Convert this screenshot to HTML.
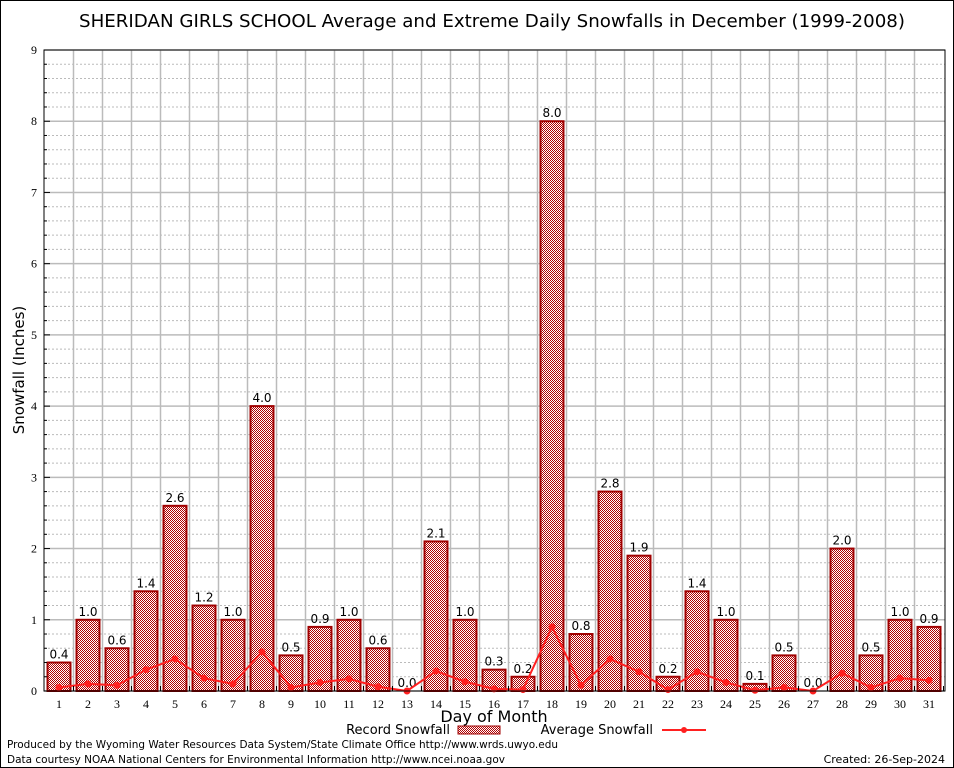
<!DOCTYPE html>
<html><head><meta charset="utf-8"><style>
body{margin:0;background:#fff;}
svg{display:block;font-family:"DejaVu Sans","Liberation Sans",sans-serif;}
</style></head><body>
<svg id="chart" width="954" height="768" viewBox="0 0 954 768">
<defs>
<pattern id="chk" width="2" height="2" patternUnits="userSpaceOnUse">
<rect width="2" height="2" fill="#fff"/><rect width="1" height="1" fill="#b00000"/><rect x="1" y="1" width="1" height="1" fill="#b00000"/>
</pattern>
</defs>
<rect x="0.5" y="0.5" width="953" height="767" fill="#fff" stroke="#000"/>
<text x="492" y="27" text-anchor="middle" font-size="18" fill="#000" textLength="826" lengthAdjust="spacingAndGlyphs">SHERIDAN GIRLS SCHOOL Average and Extreme Daily Snowfalls in December (1999-2008)</text>
<g id="grid"></g>
<g id="bars"></g>
<g id="line"></g>
<rect x="44" y="50" width="901" height="641" fill="none" stroke="#000"/>
<g id="axes" font-family="Liberation Serif, serif" font-size="12"></g>
<text x="24" y="370" text-anchor="middle" font-size="15" transform="rotate(-90 24 370)">Snowfall (Inches)</text>
<text x="494" y="722" text-anchor="middle" font-size="16">Day of Month</text>
<g font-size="13">
<text x="450" y="734" text-anchor="end">Record Snowfall</text>
<rect x="458" y="726" width="42" height="8" fill="url(#chk)" stroke="#a00000"/>
<text x="653" y="734" text-anchor="end">Average Snowfall</text>
<line x1="662" y1="730" x2="706" y2="730" stroke="#ff2020" stroke-width="2"/>
<circle cx="684" cy="730" r="3" fill="#ff2020"/>
</g>
<text x="7" y="748" font-size="11" textLength="551" lengthAdjust="spacingAndGlyphs">Produced by the Wyoming Water Resources Data System/State Climate Office http://www.wrds.uwyo.edu</text>
<text x="7" y="763" font-size="11" textLength="498" lengthAdjust="spacingAndGlyphs">Data courtesy NOAA National Centers for Environmental Information http://www.ncei.noaa.gov</text>
<text x="945" y="763" font-size="11" text-anchor="end">Created:  26-Sep-2024</text>
</svg>
<script>
const days = [1,2,3,4,5,6,7,8,9,10,11,12,13,14,15,16,17,18,19,20,21,22,23,24,25,26,27,28,29,30,31];
const recordValues = [0.4,1.0,0.6,1.4,2.6,1.2,1.0,4.0,0.5,0.9,1.0,0.6,0.0,2.1,1.0,0.3,0.2,8.0,0.8,2.8,1.9,0.2,1.4,1.0,0.1,0.5,0.0,2.0,0.5,1.0,0.9];
const averageValues = [0.05,0.1,0.08,0.3,0.45,0.18,0.1,0.55,0.05,0.12,0.17,0.06,0.0,0.28,0.13,0.03,0.02,0.9,0.08,0.45,0.27,0.02,0.27,0.12,0.01,0.05,0.0,0.25,0.05,0.18,0.15];
const yTicks = [0,1,2,3,4,5,6,7,8,9];
const NS='http://www.w3.org/2000/svg';
const x = d => 59 + (d-1)*29;
const y = v => 691 - v*(641/9);
function mk(tag, attrs, parent){const e=document.createElementNS(NS,tag);for(const k in attrs)e.setAttribute(k,attrs[k]);parent.appendChild(e);return e;}
const grid=document.getElementById('grid'), bars=document.getElementById('bars'), line=document.getElementById('line'), axes=document.getElementById('axes');
for(let i=1;i<45;i++){ if(i%5===0) continue; const gl=mk('line',{x1:44,x2:945,y1:y(i/5),y2:y(i/5),stroke:'#bbb','stroke-dasharray':'2,2'},grid);

}
yTicks.forEach(t=>{ const gl=mk('line',{x1:44,x2:945,y1:y(t),y2:y(t),stroke:'#bbb','stroke-width':1.5},grid);


const tk=mk('text',{x:37,y:y(t)+4,'text-anchor':'end'},axes); tk.textContent=t;


mk('line',{x1:44,x2:50,y1:y(t),y2:y(t),stroke:'#000'},axes);});
for(let i=1;i<45;i++){ if(i%5===0) continue; mk('line',{x1:44,x2:47,y1:y(i/5),y2:y(i/5),stroke:'#000'},axes);}
days.forEach((d,i)=>{
 if(i<days.length-1){const vl=mk('line',{x1:x(d)+14.5,x2:x(d)+14.5,y1:50,y2:691,stroke:'#bbb','stroke-width':1.5},grid);
 
 }
 const tl=mk('text',{x:x(d),y:708,'text-anchor':'middle'},axes); tl.textContent=d;
 
 
 mk('line',{x1:x(d)+14.5,x2:x(d)+14.5,y1:691,y2:686,stroke:'#000'},axes);
 const v=recordValues[i];
 const b=mk('rect',{x:x(d)-11.5,y:y(v),width:23,height:Math.max(0,691-y(v)),fill:'url(#chk)',stroke:'#a00000','stroke-width':2},bars);
 
 
 const lb=mk('text',{x:x(d),y:y(v)-4,'text-anchor':'middle','font-size':12},bars); lb.textContent=v.toFixed(1);
 
 
});
const pts=days.map((d,i)=>x(d)+','+y(averageValues[i])).join(' ');
const pl=mk('polyline',{points:pts,fill:'none',stroke:'#ff2020','stroke-width':2},line);


days.forEach((d,i)=>{const c=mk('circle',{cx:x(d),cy:y(averageValues[i]),r:3.5,fill:'#ff2020'},line);

});
</script>
</body></html>
